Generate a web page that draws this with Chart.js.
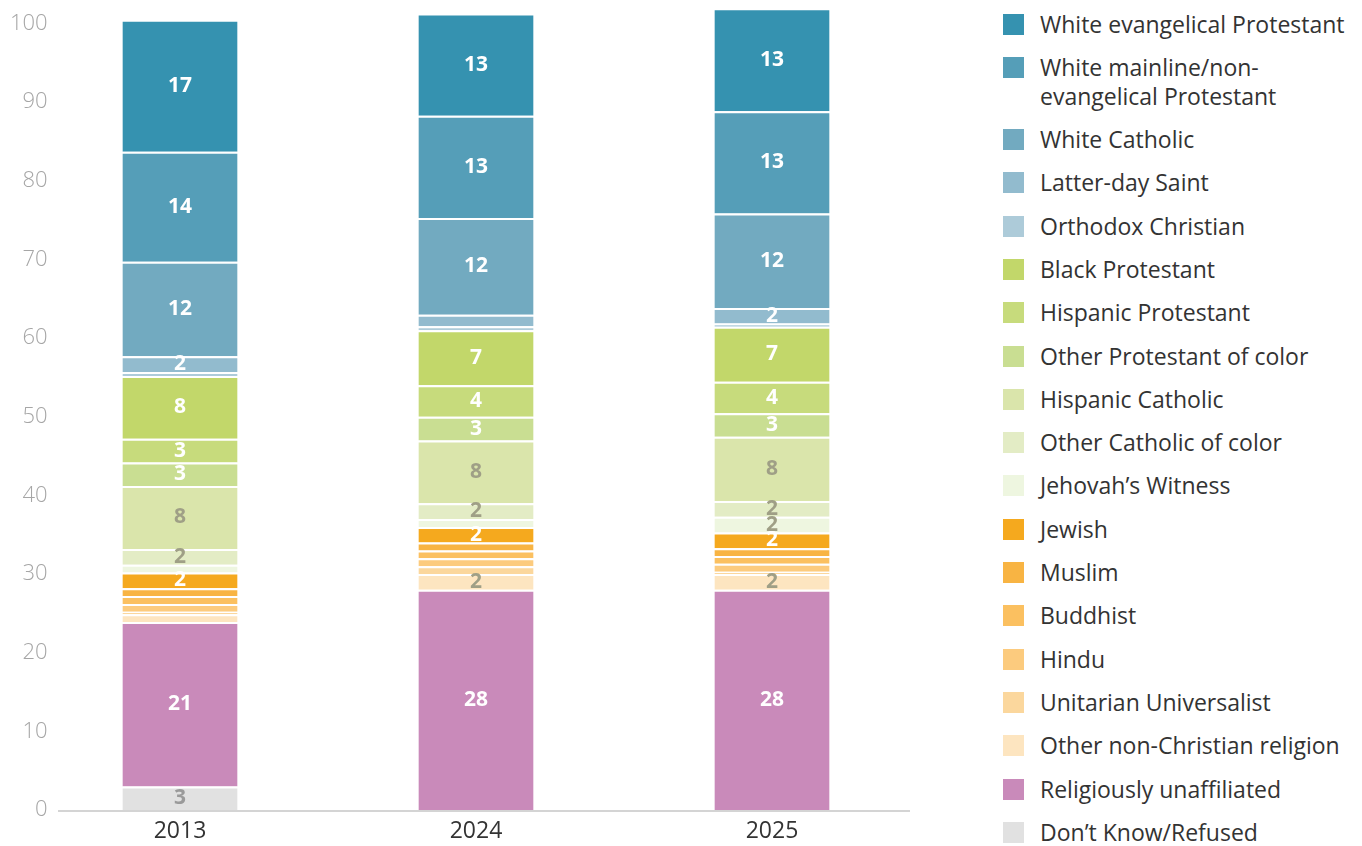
<!DOCTYPE html>
<html>
<head>
<meta charset="utf-8">
<script src="https://cdn.jsdelivr.net/npm/chart.js@4"></script>
<style>
  body { margin: 0; background: #fff; font-family: 'Open Sans', sans-serif; }
  #wrap { position: relative; width: 1362px; height: 846px; }
  #box { position: absolute; left: 0; top: 0; width: 920px; height: 846px; }
  #legend { position: absolute; left: 1003px; top: 9.5px; margin: 0; padding: 0; list-style: none; }
  #legend li { display: flex; align-items: flex-start; line-height: 29px; margin-bottom: 14.3px; font-size: 23px; color: #333; white-space: nowrap; }
  #legend span.sq { width: 21px; height: 21px; margin-top: 4px; margin-right: 16px; flex: none; }
</style>
</head>
<body>
<div id="wrap">
  <div id="box"><canvas id="myChart"></canvas></div>
  <ul id="legend"></ul>
</div>
<script>
'use strict';

// categories
const years = ['2013', '2024', '2025'];

// series values, bottom of the stack first
const dontKnow = [3, 0, 0];
const unaffiliated = [20.9, 28, 28];
const otherNonChristian = [1, 2, 2];
const unitarian = [0.3, 1, 0.3];
const hindu = [1, 1, 1];
const buddhist = [1, 1, 1];
const muslim = [1, 1, 1];
const jewish = [2, 2, 2];
const jehovah = [1, 1, 2];
const otherCatholic = [2, 2, 2];
const hispanicCatholic = [8, 8, 8.15];
const otherProtestant = [3, 3, 3];
const hispanicProtestant = [3, 4, 4];
const blackProtestant = [8, 7, 7];
const orthodox = [0.5, 0.5, 0.4];
const latterDay = [2, 1.49, 2];
const whiteCatholic = [12, 12.3, 12];
const whiteMainline = [14, 13, 13];
const whiteEvangelical = [16.8, 13, 13.1];

// y axis tick labels
const yTicks = [0, 10, 20, 30, 40, 50, 60, 70, 80, 90, 100];

const white = '#ffffff';
const grey = '#9f9f86';

// [name, values, colour, label colour]
const series = [
  ['Don\u2019t Know/Refused', dontKnow, '#e1e1e1', '#9a9a9a'],
  ['Religiously unaffiliated', unaffiliated, '#c98aba', white],
  ['Other non-Christian religion', otherNonChristian, '#fde5c0', grey],
  ['Unitarian Universalist', unitarian, '#fbd79d', grey],
  ['Hindu', hindu, '#fccb7e', white],
  ['Buddhist', buddhist, '#fbc060', white],
  ['Muslim', muslim, '#f8b443', white],
  ['Jewish', jewish, '#f5a91e', white],
  ['Jehovah\u2019s Witness', jehovah, '#eef6e0', grey],
  ['Other Catholic of color', otherCatholic, '#e3ecc5', grey],
  ['Hispanic Catholic', hispanicCatholic, '#dae5ab', grey],
  ['Other Protestant of color', otherProtestant, '#c9de92', white],
  ['Hispanic Protestant', hispanicProtestant, '#c7db7c', white],
  ['Black Protestant', blackProtestant, '#c2d76a', white],
  ['Orthodox Christian', orthodox, '#adcbd9', white],
  ['Latter-day Saint', latterDay, '#92bbce', white],
  ['White Catholic', whiteCatholic, '#72aac0', white],
  ['White mainline/non-evangelical Protestant', whiteMainline, '#559eb8', white],
  ['White evangelical Protestant', whiteEvangelical, '#3592b0', white]
];

const datasets = series.map(function (s) {
  return {
    label: s[0],
    data: s[1],
    backgroundColor: s[2],
    borderColor: '#ffffff',
    borderWidth: { top: 2, right: 0, bottom: 0, left: 0 },
    borderSkipped: false,
    labelColor: s[3],
    categoryPercentage: 1,
    barPercentage: 0.389
  };
});

// numbers inside the segments
const segmentLabels = {
  id: 'segmentLabels',
  afterDatasetsDraw(chart) {
    const ctx = chart.ctx;
    ctx.save();
    ctx.font = 'bold 21px "Open Sans"';
    ctx.textAlign = 'center';
    ctx.textBaseline = 'middle';
    chart.data.datasets.forEach(function (ds, i) {
      const meta = chart.getDatasetMeta(i);
      meta.data.forEach(function (el, j) {
        const v = ds.data[j];
        if (v < 1.5) return;
        ctx.fillStyle = ds.labelColor;
        ctx.fillText(String(Math.round(v)), el.x, (el.y + 2 + el.base) / 2 - 1);
      });
    });
    ctx.restore();
  }
};

// baseline under the bars
const baseLine = {
  id: 'baseLine',
  afterDatasetsDraw(chart) {
    const ctx = chart.ctx;
    const y = chart.scales.y.getPixelForValue(0) + 1;
    ctx.save();
    ctx.strokeStyle = '#d4d4d4';
    ctx.lineWidth = 2;
    ctx.beginPath();
    ctx.moveTo(58, y);
    ctx.lineTo(910, y);
    ctx.stroke();
    ctx.restore();
  }
};

let ctx = document.getElementById('myChart').getContext('2d');
let myChart = new Chart(ctx, {
  type: 'bar',
  data: {
    labels: years,
    datasets: datasets
  },
  options: {
    responsive: true,
    maintainAspectRatio: false,
    animation: false,
    layout: { padding: 0 },
    plugins: {
      legend: { display: false },
      tooltip: { enabled: false }
    },
    scales: {
      x: {
        stacked: true,
        grid: { display: false, drawTicks: false },
        border: { display: false },
        ticks: {
          color: '#333',
          font: { family: 'Open Sans', size: 23 },
          padding: 8
        },
        afterFit: function (scale) { scale.height = 36; }
      },
      y: {
        stacked: true,
        min: 0,
        max: 103,
        grid: { display: false, drawTicks: false },
        border: { display: false },
        ticks: {
          color: '#a6a6a6',
          font: { family: 'Open Sans', size: 22, weight: 300 },
          mirror: true,
          crossAlign: 'far',
          padding: -22
        },
        afterBuildTicks: function (scale) {
          scale.ticks = yTicks.map(function (v) { return { value: v }; });
        },
        afterFit: function (scale) { scale.width = 32; }
      }
    }
  },
  plugins: [segmentLabels, baseLine]
});

// legend, top of the stack first
function renderLegend() {
  const ul = document.getElementById('legend');
  ul.innerHTML = '';
  for (let i = series.length - 1; i >= 0; i--) {
    let li = document.createElement('li');
    let sq = document.createElement('span');
    sq.className = 'sq';
    sq.style.background = series[i][2];
    let txt = document.createElement('span');
    txt.textContent = series[i][0];
    if (series[i][0].indexOf('non-evangelical') > -1) {
      txt.innerHTML = 'White mainline/non-<br>evangelical Protestant';
    }
    li.appendChild(sq);
    li.appendChild(txt);
    ul.appendChild(li);
  }
}

renderLegend();
</script>
</body>
</html>
